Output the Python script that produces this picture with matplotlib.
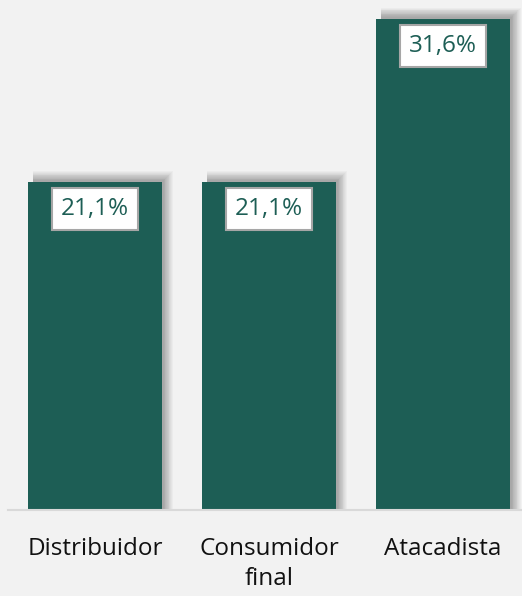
import matplotlib.pyplot as plt
import numpy as np

# Share by customer type (%)
categories = ['Distribuidor', 'Consumidor\nfinal', 'Atacadista']
values = [21.1, 21.1, 31.6]
labels = ['21,1%', '21,1%', '31,6%']

bar_color = '#1d5e55'
bg = '#f2f2f2'

plt.rcParams['font.family'] = ['Open Sans', 'DejaVu Sans']

fig = plt.figure(figsize=(5.22, 5.96), dpi=100, facecolor=bg)
ax = fig.add_axes([8 / 522, 86 / 596, 514 / 522, 510 / 596])
ax.set_facecolor(bg)

x = np.arange(len(categories))
width = 0.77
ax.set_xlim(-0.5, 2.454)
ax.set_ylim(0, 32.8)

# pixel -> data conversions for the soft shadow
px_x = 1 / 174
px_y = 32.8 / 510

# soft drop shadow offset to the right and upward
for k in range(12, 0, -1):
    grow = k * 0.8
    ax.bar(x + (grow / 2 + 3) * px_x, np.array(values) + (1 + grow) * px_y,
           width=width - 4 * px_x + grow * px_x,
           color='black', alpha=0.028, linewidth=0, zorder=1)

ax.bar(x, values, width=width, color=bar_color, linewidth=0, zorder=2)

for xi, v, lab in zip(x, values, labels):
    ax.annotate(lab, xy=(xi, v), xytext=(0, -11), textcoords='offset points',
                ha='center', va='top', fontsize=17.5, color=bar_color, zorder=4,
                bbox=dict(boxstyle='square,pad=0.36', fc='white',
                          ec='#a6a6a6', lw=1.5))

for s in ['top', 'right', 'left']:
    ax.spines[s].set_visible(False)
ax.spines['bottom'].set_color('#d9d9d9')
ax.spines['bottom'].set_linewidth(1.5)
ax.spines['bottom'].set_zorder(3)
ax.set_yticks([])
ax.set_xticks(x)
ax.set_xticklabels(categories, fontsize=17.5, color='#111111', linespacing=1.35)
ax.tick_params(axis='x', length=0, pad=19.5)

fig.savefig('out.png', dpi=100, facecolor=bg)
